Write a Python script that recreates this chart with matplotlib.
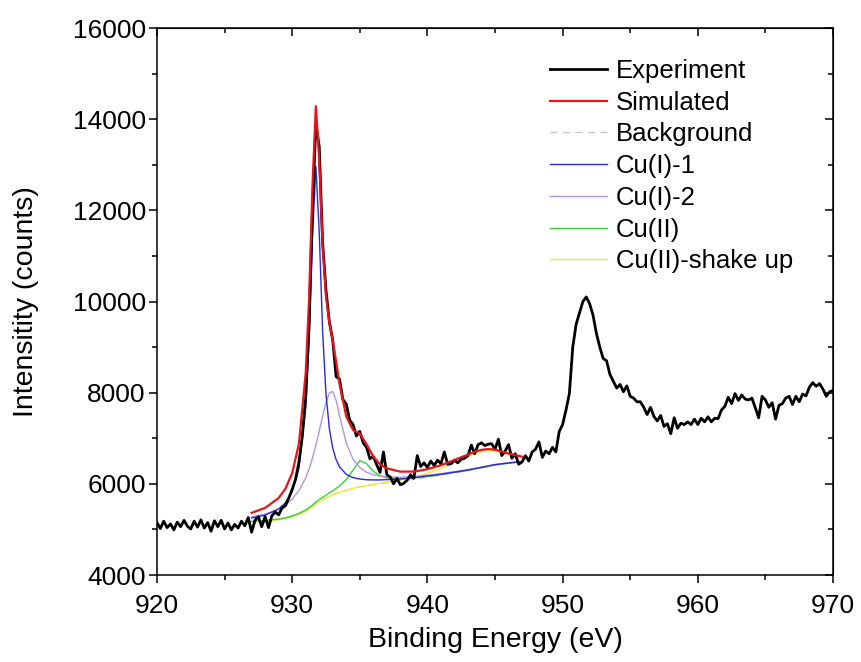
import numpy as np
import matplotlib
matplotlib.use("Agg")
import matplotlib.pyplot as plt
from matplotlib.ticker import MultipleLocator

plt.rcParams['font.family'] = ['Liberation Sans', 'DejaVu Sans']

# measured spectrum, 920-970 eV in 0.25 eV steps
exp_start, exp_step = 920.0, 0.25
exp_counts = [
    5150, 5020, 5180, 5040, 5120, 4990, 5160, 5060,   # 920
    5200, 5070, 5010, 5180, 5050, 5210, 5030, 5150,   # 922
    4960, 5190, 5060, 5200, 5010, 5140, 4990, 5110,   # 924
    5030, 5180, 5080, 5260, 4940, 5200, 5280, 5060,   # 926
    5280, 5040, 5300, 5380, 5320, 5470, 5520, 5690,   # 928
    5880, 6100, 6480, 7050, 7900, 9500, 12000, 13900, # 930
    13400, 11300, 10250, 9550, 9150, 8350, 8300, 7850,  # 932
    7750, 7400, 7300, 7050, 7150, 6900, 6800, 6550,   # 934
    6600, 6420, 6250, 6700, 6200, 6150, 6000, 6120,   # 936
    5980, 6010, 6080, 6200, 6120, 6620, 6380, 6460,   # 938
    6360, 6500, 6400, 6520, 6440, 6700, 6430, 6440,   # 940
    6520, 6460, 6540, 6560, 6620, 6850, 6660, 6860,   # 942
    6900, 6840, 6870, 6880, 6760, 6980, 6620, 6720,   # 944
    6860, 6560, 6660, 6430, 6480, 6620, 6500, 6700,   # 946
    6760, 6920, 6580, 6720, 6660, 6800, 6700, 7150,   # 948
    7300, 7620, 7980, 9000, 9500, 9750, 10000, 10100, # 950
    9950, 9700, 9300, 9000, 8750, 8700, 8400, 8250,   # 952
    8100, 8180, 8020, 8150, 7920, 7880, 7800, 7800,   # 954
    7680, 7520, 7680, 7480, 7380, 7500, 7260, 7320,   # 956
    7100, 7450, 7220, 7330, 7300, 7360, 7300, 7420,   # 958
    7300, 7440, 7360, 7470, 7360, 7440, 7430, 7620,   # 960
    7700, 7900, 7760, 7980, 7830, 7950, 7860, 7840,   # 962
    7880, 7670, 7450, 7920, 7840, 7680, 7780, 7420,   # 964
    7720, 7760, 7880, 7920, 7740, 7920, 7800, 7970,   # 966
    7930, 8120, 8220, 8140, 8200, 8080, 7920, 8020,   # 968
    8050,                                             # 970
]
exp_energy = exp_start + exp_step * np.arange(len(exp_counts))

# fitted curves share one energy grid
fit_energy = [927, 928, 929, 929.5, 930, 930.5, 931, 931.25, 931.5, 931.75,
              932, 932.25, 932.5, 932.75, 933, 933.25, 933.5, 934, 934.5, 935,
              935.5, 936, 936.5, 937, 938, 939, 940, 941, 942, 943,
              943.5, 944, 944.5, 945, 945.5, 946, 947]

simulated = [5363, 5473, 5690, 5892, 6234, 6881, 8433, 10057, 12514, 14284,
             13123, 11235, 10121, 9544, 9138, 8681, 8196, 7477, 7181, 7102,
             6868, 6597, 6428, 6339, 6268, 6269, 6321, 6408, 6524, 6643,
             6705, 6746, 6763, 6751, 6708, 6665, 6596]

background = [5170, 5185, 5215, 5240, 5280, 5330, 5400, 5450, 5500, 5560,
              5610, 5650, 5690, 5730, 5760, 5790, 5815, 5860, 5900, 5935,
              5960, 5985, 6005, 6025, 6060, 6100, 6145, 6190, 6240, 6290,
              6320, 6350, 6380, 6410, 6430, 6450, 6480]

cu1_1 = [5250, 5313, 5449, 5585, 5833, 6341, 7677, 9150, 11420, 12960,
         11530, 9350, 7967, 7210, 6781, 6530, 6373, 6208, 6136, 6106,
         6089, 6086, 6086, 6092, 6107, 6135, 6172, 6211, 6257, 6304,
         6333, 6362, 6391, 6420, 6439, 6458, 6487]

cu1_2 = [5276, 5336, 5444, 5532, 5663, 5849, 6129, 6327, 6560, 6845,
         7158, 7482, 7782, 7990, 8027, 7830, 7499, 6896, 6543, 6358,
         6255, 6201, 6169, 6154, 6145, 6160, 6190, 6224, 6267, 6312,
         6340, 6368, 6397, 6426, 6445, 6463, 6491]

cu2 = [5177, 5194, 5227, 5255, 5298, 5351, 5427, 5480, 5534, 5599,
       5655, 5703, 5752, 5804, 5850, 5901, 5954, 6093, 6302, 6508,
       6444, 6275, 6175, 6131, 6111, 6129, 6164, 6203, 6250, 6297,
       6327, 6356, 6385, 6415, 6434, 6454, 6483]

cu2_shake = [5170, 5185, 5215, 5240, 5280, 5330, 5400, 5450, 5500, 5560,
             5610, 5650, 5690, 5730, 5760, 5790, 5815, 5860, 5900, 5935,
             5960, 5990, 6013, 6037, 6085, 6145, 6230, 6340, 6470, 6600,
             6665, 6710, 6730, 6720, 6680, 6640, 6575]

fig = plt.figure(figsize=(8.62, 6.62), dpi=100)
ax = fig.add_axes([0.1821, 0.1314, 0.7843, 0.8263])

ax.plot(fit_energy, background, color='#c4c4c4', lw=1.0, ls=(0, (5, 4)), label='Background')
ax.plot(fit_energy, cu2_shake, color='#eeee30', lw=1.0, label='Cu(II)-shake up')
ax.plot(fit_energy, cu2, color='#38d038', lw=1.0, label='Cu(II)')
ax.plot(fit_energy, cu1_2, color='#b494e0', lw=1.0, label='Cu(I)-2')
ax.plot(fit_energy, cu1_1, color='#2a2ad2', lw=1.0, label='Cu(I)-1')
ax.plot(exp_energy, exp_counts, color='black', lw=2.0, label='Experiment')
ax.plot(fit_energy, simulated, color='#e8141c', lw=1.6, label='Simulated')

ax.set_xlim(920, 970)
ax.set_ylim(4000, 16000)
ax.xaxis.set_major_locator(MultipleLocator(10))
ax.xaxis.set_minor_locator(MultipleLocator(5))
ax.yaxis.set_major_locator(MultipleLocator(2000))
ax.yaxis.set_minor_locator(MultipleLocator(1000))
ax.tick_params(which='both', direction='out', width=1.1, labelsize=19, pad=2)
ax.tick_params(axis='x', pad=8)
ax.tick_params(which='major', length=6)
ax.tick_params(which='minor', length=3.5)
for s in ax.spines.values():
    s.set_linewidth(1.1)

top = ax.secondary_xaxis('top')
top.xaxis.set_major_locator(MultipleLocator(10))
top.xaxis.set_minor_locator(MultipleLocator(5))
top.tick_params(which='both', direction='in', labeltop=False, width=1.1)
top.tick_params(which='major', length=6)
top.tick_params(which='minor', length=3.5)
right = ax.secondary_yaxis('right')
right.yaxis.set_major_locator(MultipleLocator(2000))
right.yaxis.set_minor_locator(MultipleLocator(1000))
right.tick_params(which='both', direction='in', labelright=False, width=1.1)
right.tick_params(which='major', length=6)
right.tick_params(which='minor', length=3.5)

ax.set_xlabel('Binding Energy (eV)', fontsize=20.5, labelpad=6)
ax.set_ylabel('Intensitity (counts)', fontsize=20.5, labelpad=24)

h, l = ax.get_legend_handles_labels()
order = ['Experiment', 'Simulated', 'Background', 'Cu(I)-1', 'Cu(I)-2', 'Cu(II)', 'Cu(II)-shake up']
hd = dict(zip(l, h))
ax.legend([hd[k] for k in order], order, loc='upper right', frameon=False, fontsize=18.5,
          handlelength=2.2, handletextpad=0.35, labelspacing=0.3,
          bbox_to_anchor=(0.956, 0.962), borderaxespad=0)

fig.savefig('out.png', dpi=100)
